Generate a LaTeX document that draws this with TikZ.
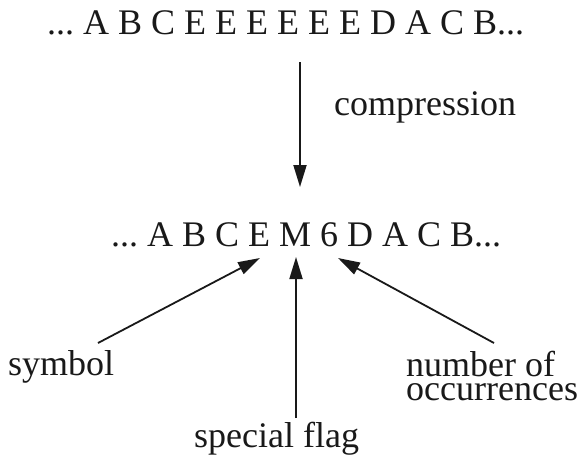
\documentclass[tikz,border=0pt]{standalone}
\usepackage{fontspec}
\setmainfont{Liberation Serif}
\usetikzlibrary{arrows.meta}
\frenchspacing
\begin{document}
\begin{tikzpicture}[x=1pt,y=-1pt,
  txt/.style={inner sep=0pt, font=\fontsize{36}{24}\selectfont\frenchspacing, text=black!90},
  arr/.style={line width=1.8pt, draw=black!90, -{Triangle[length=22pt,width=13pt]}}]
\useasboundingbox (0,0) rectangle (581,459);
% strings
\node[txt, anchor=base west] (top) at (47,34) {... A B C E E E E E E D A C B...};
\node[txt, anchor=base west] (bot) at (111,246) {... A B C E M 6 D A C B...};
% labels
\node[txt, anchor=base west] (comp) at (334,115) {compression};
\node[txt, anchor=base west] (sym) at (8,375) {symbol};
\node[txt, anchor=base west, align=left] (num) at (406,400) {number of\\occurrences};
\node[txt, anchor=base west] (flag) at (194,447) {special flag};
% connector ends
\coordinate (topout) at (300,62);
\coordinate (botin) at (300,187);
\coordinate (symout) at (98,343);
\coordinate (symin) at (260,258);
\coordinate (flagout) at (296,418);
\coordinate (flagin) at (296,257);
\coordinate (numout) at (494,343);
\coordinate (numin) at (338,258);
% arrows
\draw[arr] (topout) -- (botin);
\draw[arr] (symout) -- (symin);
\draw[arr] (flagout) -- (flagin);
\draw[arr] (numout) -- (numin);
\end{tikzpicture}
\end{document}
